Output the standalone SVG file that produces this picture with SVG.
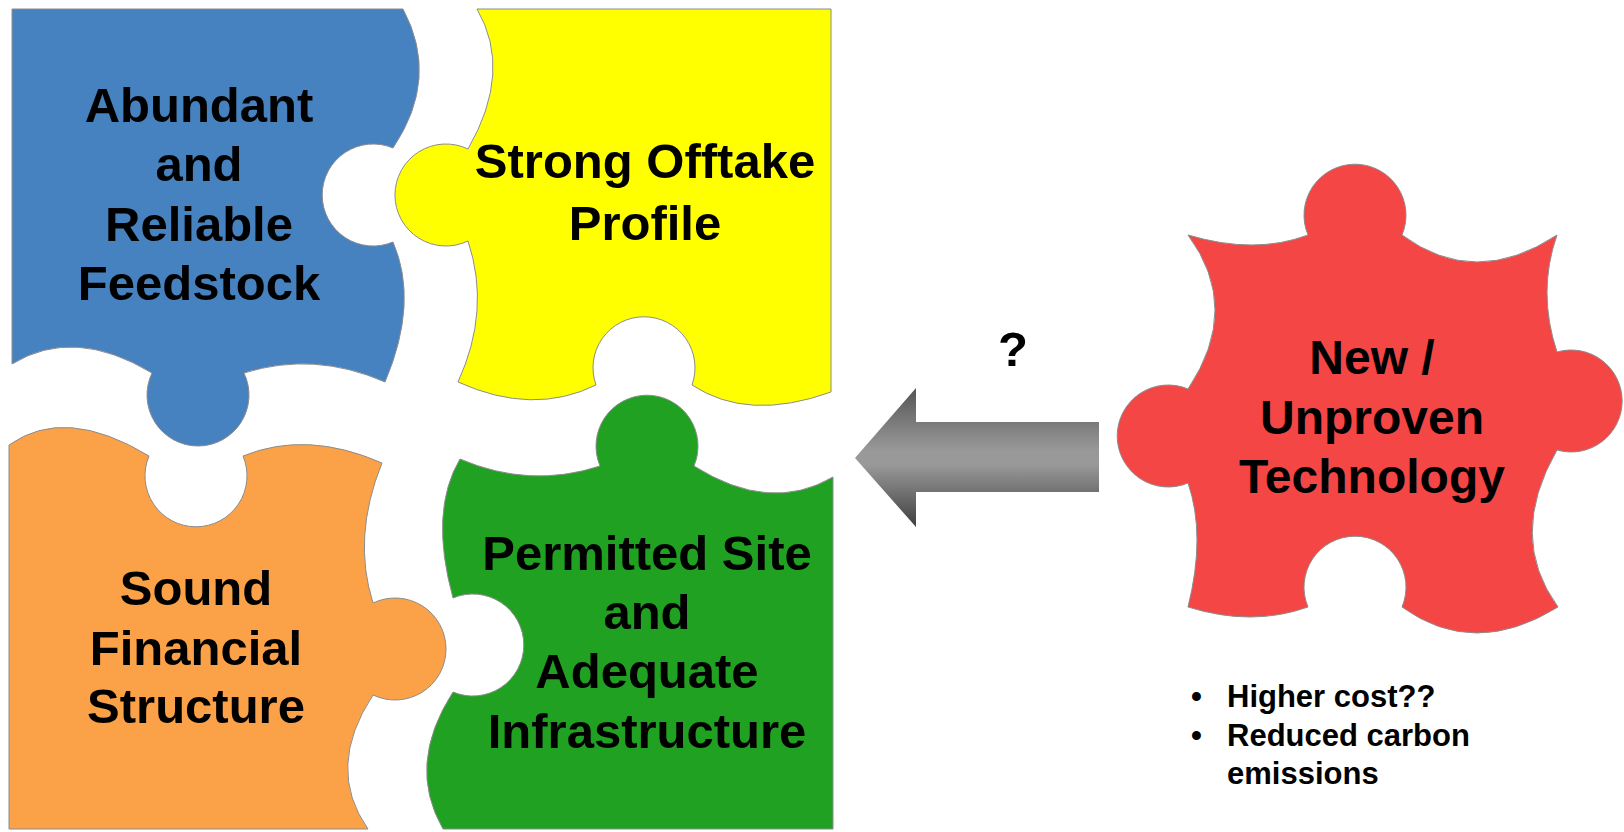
<svg xmlns="http://www.w3.org/2000/svg" width="1624" height="832" viewBox="0 0 1624 832">
  <defs>
    <style>
      .piece { stroke: #8c8c8c; stroke-width: 1; }
      .label { font-family: "Liberation Sans", Arial, sans-serif; font-weight: bold; font-size: 49px; fill: #000; text-anchor: middle; }
      .red-label { font-size: 48px; }
      .note { font-family: "Liberation Sans", Arial, sans-serif; font-weight: bold; font-size: 31px; fill: #000; }
    </style>
    <linearGradient id="arrowShade" gradientUnits="userSpaceOnUse" x1="0" y1="388" x2="0" y2="527">
      <stop offset="0" stop-color="#555555"/>
      <stop offset="0.45" stop-color="#999999"/>
      <stop offset="0.55" stop-color="#999999"/>
      <stop offset="1" stop-color="#3f3f3f"/>
    </linearGradient>
  </defs>

  <rect width="1624" height="832" fill="#ffffff"/>

  <!-- top-left piece -->
  <g id="feedstock">
    <path class="piece" fill="#4682bf" d="M 12 9 H 403 Q 440 78 393 148 A 51 51 0 1 0 393 242 Q 419 302 385 382 Q 314 351 244 373 A 51 51 0 1 1 152 373 Q 74 326 12 364 Z"/>
    <text class="label" x="199" y="122">Abundant</text>
    <text class="label" x="199" y="181">and</text>
    <text class="label" x="199" y="241">Reliable</text>
    <text class="label" x="199" y="300">Feedstock</text>
  </g>

  <!-- top-right piece -->
  <g id="offtake">
    <path class="piece" fill="#ffff00" d="M 477 9 H 831 V 392 Q 748 422 692 385 A 51 51 0 1 0 596 385 Q 533 416 458 382 Q 491 310 468 241 A 51 51 0 1 1 468 149 Q 513 71 477 9 Z"/>
    <text class="label" x="645" y="178">Strong Offtake</text>
    <text class="label" x="645" y="240">Profile</text>
  </g>

  <!-- bottom-left piece -->
  <g id="financial">
    <path class="piece" fill="#fba148" d="M 9 445 Q 65 405 149 456 A 51 51 0 1 0 243 456 Q 307 430 382 463 Q 352 537 373 603 A 51 51 0 1 1 373 695 Q 325 768 368 829 H 9 Z"/>
    <text class="label" x="196" y="605">Sound</text>
    <text class="label" x="196" y="665">Financial</text>
    <text class="label" x="196" y="723">Structure</text>
  </g>

  <!-- bottom-right piece -->
  <g id="site">
    <path class="piece" fill="#21a121" d="M 460 459 Q 530 489 600 466 A 51 51 0 1 1 694 466 Q 770 514 833 477 V 829 H 443 Q 406 765 453 692 A 51 51 0 1 0 453 598 Q 429 511 460 459 Z"/>
    <text class="label" x="647" y="570">Permitted Site</text>
    <text class="label" x="647" y="629">and</text>
    <text class="label" x="647" y="688">Adequate</text>
    <text class="label" x="647" y="748">Infrastructure</text>
  </g>

  <!-- loose piece on the right -->
  <g id="technology">
    <path class="piece" fill="#f54646" d="M 1188 235 Q 1255 255 1308 235 A 51 51 0 1 1 1402 235 Q 1475 289 1557 235 Q 1537 292 1557 352 A 51 51 0 1 1 1557 450 Q 1507 537 1558 607 Q 1474 659 1402 607 A 51 51 0 1 0 1308 607 Q 1252 627 1188 607 Q 1206 535 1188 483 A 51 51 0 1 1 1188 389 Q 1242 308 1188 235 Z"/>
    <text class="label red-label" x="1372" y="374">New /</text>
    <text class="label red-label" x="1372" y="434">Unproven</text>
    <text class="label red-label" x="1372" y="493">Technology</text>
  </g>

  <!-- connector: block arrow pointing at the assembled puzzle -->
  <g id="connectors">
    <polygon points="855,458 916,388 916,422 1099,422 1099,492 916,492 916,527" fill="url(#arrowShade)"/>
    <text class="label" x="1013" y="366">?</text>
  </g>

  <!-- notes under the loose piece -->
  <g id="notes">
    <text class="note" x="1191" y="707">•</text>
    <text class="note" x="1227" y="707">Higher cost??</text>
    <text class="note" x="1191" y="746">•</text>
    <text class="note" x="1227" y="746">Reduced carbon</text>
    <text class="note" x="1227" y="784">emissions</text>
  </g>
</svg>
